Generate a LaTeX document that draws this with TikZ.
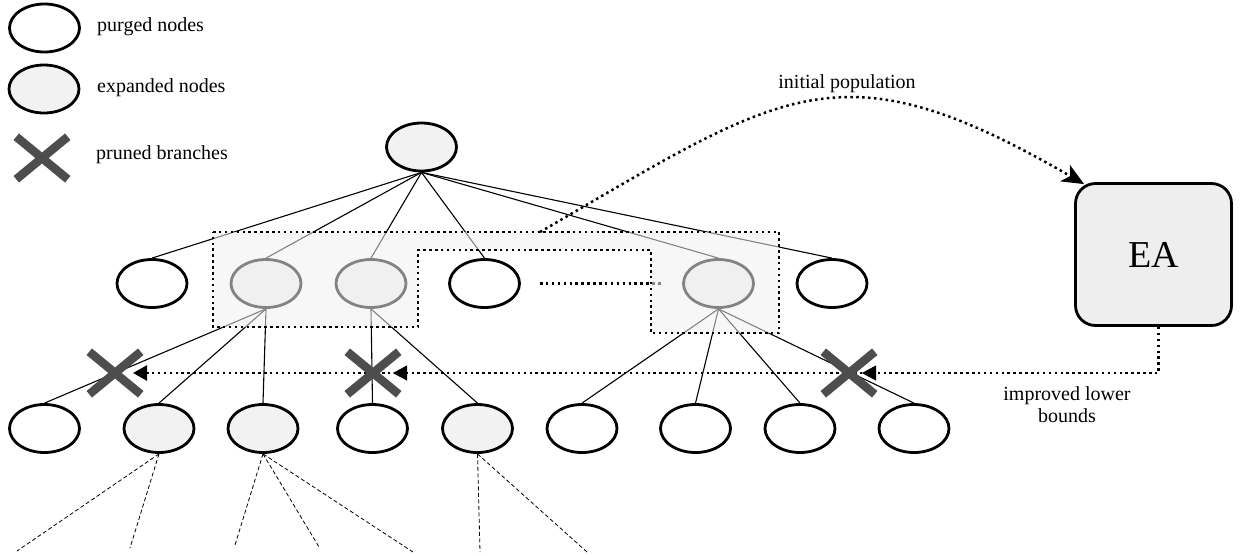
\documentclass[tikz,border=0pt]{standalone}
\usepackage{fontspec}
\setmainfont{Liberation Serif}
\usetikzlibrary{shapes.geometric,shapes.misc,arrows.meta,calc}
\definecolor{expfill}{HTML}{F2F2F2}
\definecolor{eafill}{HTML}{EEEEEE}
\definecolor{crossgray}{HTML}{4D4D4D}
\definecolor{boxfill}{HTML}{F0F0F0}
\begin{document}
\begin{tikzpicture}[x=1pt,y=-1pt,
  purged/.style={ellipse,draw=black,line width=2.8pt,fill=white,minimum width=70pt,minimum height=48pt,inner sep=0pt},
  expanded/.style={purged,fill=expfill},
  treeedge/.style={line width=1.1pt},
  dotline/.style={line width=2.5pt,dash pattern=on 2.5pt off 3.4pt},
  dashline/.style={line width=0.8pt,dash pattern=on 4pt off 2.5pt},
  crossmark/.style={cross out,draw=crossgray,line width=8.5pt,minimum width=43pt,minimum height=34pt,inner sep=0pt},
  lbl/.style={font=\fontsize{20}{22}\selectfont,inner sep=0pt},
  ltip/.style={-{Triangle[length=14pt,width=15pt]}},
]
\useasboundingbox (0,0) rectangle (1241,555);
% legend
\node[purged] (lp) at (44.5,28) {};
\node[expanded] (le) at (44,89) {};
\node[crossmark] (lx) at (42,158) {};
\node[lbl,anchor=west] (lpt) at (97,27) {purged nodes};
\node[lbl,anchor=west] (let) at (97,88) {expanded nodes};
\node[lbl,anchor=west] (lxt) at (96,155) {pruned branches};
% tree nodes
\node[expanded] (root) at (421.5,147) {};
\node[purged] (a1) at (152,283.5) {};
\node[expanded] (a2) at (266,283.5) {};
\node[expanded] (a3) at (371,283.5) {};
\node[purged] (a4) at (484.5,283.5) {};
\node[expanded] (a5) at (718.5,283.5) {};
\node[purged] (a6) at (832,283.5) {};
\node[purged] (b1) at (44.5,428.5) {};
\node[expanded] (b2) at (159,428.5) {};
\node[expanded] (b3) at (263,428.5) {};
\node[purged] (b4) at (372.5,428.5) {};
\node[expanded] (b5) at (477.5,428.5) {};
\node[purged] (b6) at (582,428.5) {};
\node[purged] (b7) at (695.5,428.5) {};
\node[purged] (b8) at (800,428.5) {};
\node[purged] (b9) at (914,428.5) {};
% edges
\foreach \n in {a1,a2,a3,a4,a5,a6} \draw[treeedge] (root.south) -- (\n.north);
\foreach \n in {b1,b2,b3} \draw[treeedge] (a2.south) -- (\n.north);
\foreach \n in {b4,b5} \draw[treeedge] (a3.south) -- (\n.north);
\foreach \n in {b6,b7,b8,b9} \draw[treeedge] (a5.south) -- (\n.north);
% dots between a4 and a5
\coordinate (hd) at (540,283.5);
\draw[dotline] (hd) -- ([xshift=-19pt]a5.west);
% population box
\fill[boxfill,fill opacity=0.55] (213,232) -- (779,232) -- (779,333) -- (651,333) -- (651,250) -- (418,250) -- (418,327) -- (213,327) -- cycle;
\draw[dotline] (213,232) -- (779,232) -- (779,333) -- (651,333) -- (651,250) -- (418,250) -- (418,327) -- (213,327) -- cycle;
% EA box
\node[draw=black,line width=2.8pt,fill=eafill,rounded corners=20pt,minimum width=156pt,minimum height=142pt,inner sep=0pt,font=\fontsize{38}{40}\selectfont] (ea) at (1153.5,254.5) {EA};
% initial population
\coordinate (ipstart) at (540,232);
\draw[dotline,-{Stealth[length=22pt,width=19pt,inset=6pt]}] (ipstart) .. controls (785,90) and (839,42) .. ([xshift=10pt,yshift=-2pt]ea.north west);
\node[lbl] (iplbl) at (847,84) {initial population};
% improved lower bounds
\coordinate (t1) at (133,373);
\coordinate (t2) at (393,373);
\coordinate (t3) at (862,373);
\draw[dotline,ltip] ([xshift=5pt]ea.south) |- (t1);
\draw[ltip] ([xshift=2pt]t2) -- (t2);
\draw[ltip] ([xshift=2pt]t3) -- (t3);
\node[lbl,align=center] (ilb) at (1067,405) {improved lower\\bounds};
% crosses
\node[crossmark] (x1) at (115,373) {};
\node[crossmark] (x2) at (373,373) {};
\node[crossmark] (x3) at (849,373) {};
% dashed continuations
\coordinate (d1) at (17,551);
\coordinate (d2) at (130,548);
\coordinate (d3) at (235,545);
\coordinate (d4) at (319,547);
\coordinate (d5) at (413,552);
\coordinate (d6) at (480,552);
\coordinate (d7) at (587,552);
\foreach \d in {d1,d2} \draw[dashline] (b2.south) -- (\d);
\foreach \d in {d3,d4,d5} \draw[dashline] (b3.south) -- (\d);
\foreach \d in {d6,d7} \draw[dashline] (b5.south) -- (\d);
\end{tikzpicture}
\end{document}
